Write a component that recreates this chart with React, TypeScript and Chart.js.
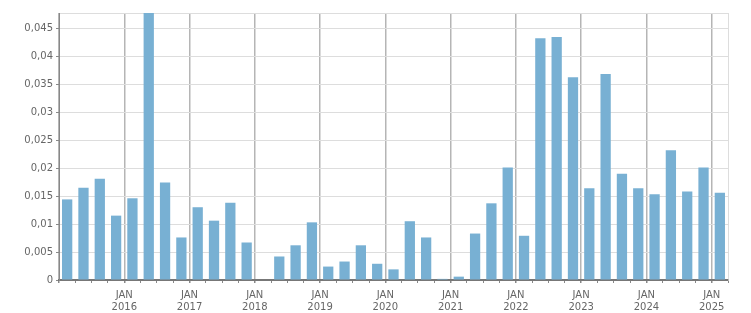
import React, { useEffect, useRef } from "react";
import { Chart, registerables } from "chart.js";

Chart.register(...registerables);

const startYear = 2015;
const quarterLabels = [
  "Q1 2015", "Q2 2015", "Q3 2015", "Q4 2015",
  "Q1 2016", "Q2 2016", "Q3 2016", "Q4 2016",
  "Q1 2017", "Q2 2017", "Q3 2017", "Q4 2017",
  "Q1 2018", "Q2 2018", "Q3 2018", "Q4 2018",
  "Q1 2019", "Q2 2019", "Q3 2019", "Q4 2019",
  "Q1 2020", "Q2 2020", "Q3 2020", "Q4 2020",
  "Q1 2021", "Q2 2021", "Q3 2021", "Q4 2021",
  "Q1 2022", "Q2 2022", "Q3 2022", "Q4 2022",
  "Q1 2023", "Q2 2023", "Q3 2023", "Q4 2023",
  "Q1 2024", "Q2 2024", "Q3 2024", "Q4 2024",
  "Q1 2025",
];
const values = [
  0.0144, 0.0165, 0.0181, 0.0115,
  0.0146, 0.0477, 0.0174, 0.0076,
  0.0130, 0.0106, 0.0138, 0.0067,
  0.0, 0.0042, 0.0062, 0.0103,
  0.0024, 0.0033, 0.0062, 0.0029,
  0.0019, 0.0105, 0.0076, 0.0002,
  0.0006, 0.0083, 0.0137, 0.0201,
  0.0079, 0.0432, 0.0434, 0.0362,
  0.0164, 0.0368, 0.0190, 0.0164,
  0.0153, 0.0232, 0.0158, 0.0201,
  0.0156,
];
const yTicks = [0, 0.005, 0.01, 0.015, 0.02, 0.025, 0.03, 0.035, 0.04, 0.045];
const yMax = 0.0477;
const monthLabel = "JAN";

const FONT = "'DejaVu Sans', Verdana, sans-serif";

export default function App() {
  const ref = useRef<HTMLCanvasElement | null>(null);
  useEffect(() => {
    document.body.style.margin = "0";
    const canvas = ref.current!;
    const n = quarterLabels.length;
    const chart = new Chart(canvas, {
      type: "bar",
      data: {
        datasets: [
          {
            label: "Value",
            data: values.map((v, i) => ({ x: i + 0.5, y: v })),
            backgroundColor: "#78b0d3",
            borderWidth: 0,
            categoryPercentage: 1,
            barPercentage: 0.63,
          },
        ],
      },
      options: {
        responsive: false,
        animation: false,
        maintainAspectRatio: false,
        layout: { padding: { left: 0, top: 13, right: 23, bottom: 0 } },
        plugins: { legend: { display: false }, tooltip: { enabled: false } },
        scales: {
          x: {
            type: "linear",
            min: 0,
            max: n,
            offset: false,
            afterBuildTicks: (scale: any) => {
              const t = [];
              for (let i = 0; i <= n; i++) t.push({ value: i });
              scale.ticks = t;
            },
            afterFit: (scale: any) => {
              scale.height = 33;
            },
            ticks: {
              autoSkip: false,
              maxRotation: 0,
              padding: 6,
              color: "#666",
              font: { family: FONT, size: 10, lineHeight: 1.25 },
              callback: (v: any) => {
                const i = Number(v);
                if (i > 0 && i % 4 === 0 && i < n) return [monthLabel, String(startYear + i / 4)];
                return "";
              },
            },
            grid: {
              offset: false,
              color: (ctx: any) => {
                const v = ctx.tick ? ctx.tick.value : -1;
                if (v === n) return "#dddddd";
                if (v % 4 === 0) return "#b5b5b5";
                return "rgba(0,0,0,0)";
              },
              lineWidth: (ctx: any) => {
                const v = ctx.tick ? ctx.tick.value : -1;
                return v % 4 === 0 && v !== n ? 1.5 : 1;
              },
              tickColor: "#888",
              tickLength: 3,
              drawOnChartArea: true,
            },
            border: { color: "#777", width: 2 },
          },
          y: {
            type: "linear",
            min: 0,
            max: yMax,
            afterBuildTicks: (scale: any) => {
              scale.ticks = [...yTicks.map((v) => ({ value: v })), { value: yMax }];
            },
            afterFit: (scale: any) => {
              scale.width = 59;
            },
            ticks: {
              padding: 3,
              color: "#666",
              font: { family: FONT, size: 10 },
              callback: (v: any) => {
                const val = Number(v);
                if (!yTicks.some((t) => Math.abs(t - val) < 1e-9)) return "";
                return String(Math.round(val * 1000) / 1000).replace(".", ",");
              },
            },
            grid: {
              color: "#dddddd",
              tickColor: (ctx: any) => (ctx.tick && ctx.tick.value === yMax ? "rgba(0,0,0,0)" : "#888"),
              tickLength: 3,
            },
            border: { color: "#888", width: 1 },
          },
        },
      },
    });
    return () => chart.destroy();
  }, []);
  return (
    <div style={{ width: 751, height: 313 }}>
      <canvas ref={ref} width={751} height={313} style={{ display: "block" }} />
    </div>
  );
}
